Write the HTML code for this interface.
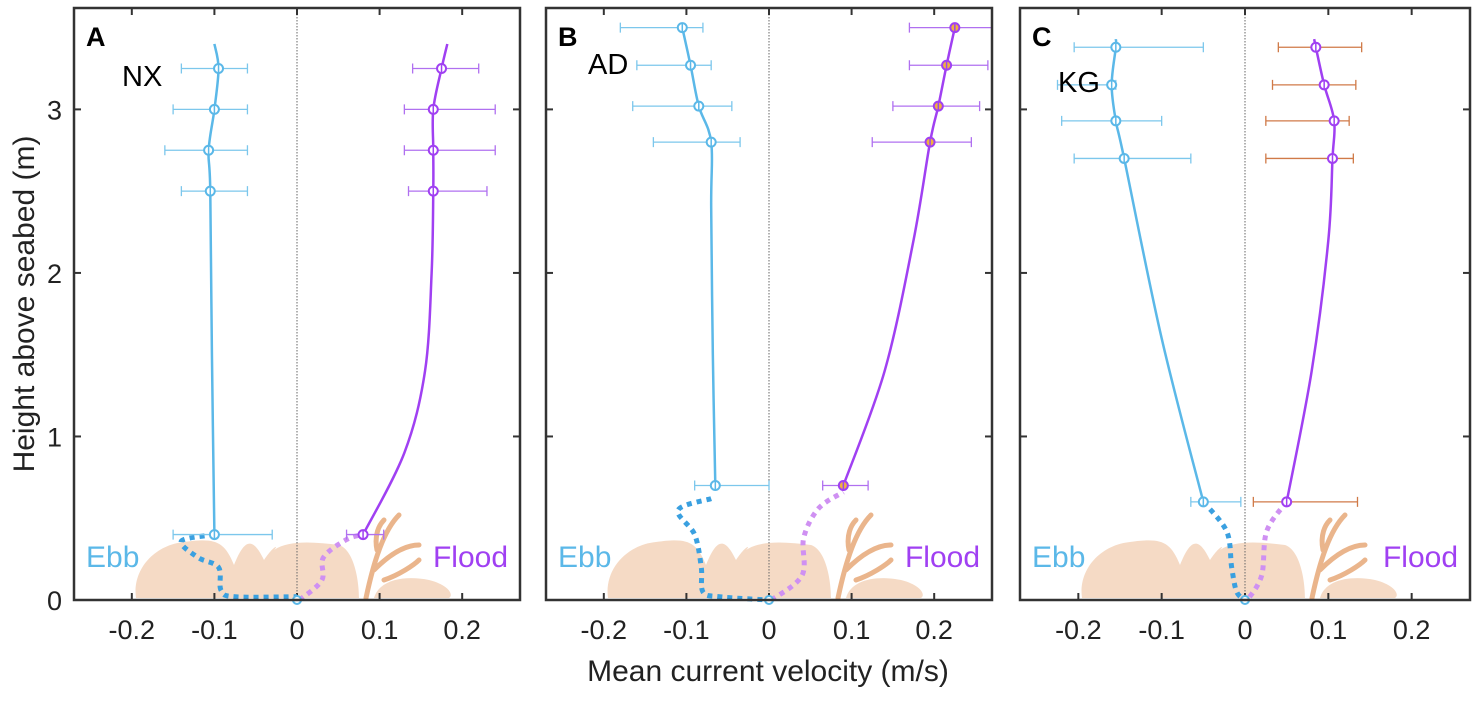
<!DOCTYPE html>
<html><head><meta charset="utf-8"><style>
body{margin:0;background:#fff;}
svg text{font-family:"Liberation Sans",Arial,sans-serif;}
</style></head><body>
<svg id="fig" width="1476" height="698" viewBox="0 0 1476 698" xmlns="http://www.w3.org/2000/svg">
<text x="0" y="0" transform="translate(34,304) rotate(-90)" text-anchor="middle" font-size="30" fill="#222">Height above seabed (m)</text>
<text x="768" y="681" text-anchor="middle" font-size="30" fill="#222">Mean current velocity (m/s)</text>
</svg>
<script>
const xTicks=[-0.2,-0.1,0,0.1,0.2];
const yTicks=[0,1,2,3];
const panelLetters=["A","B","C"];
const siteNames=["NX","AD","KG"];
// ebb measured points [velocity, height, errLow, errHigh]
const ebbPtsA=[[-0.1,0.4,-0.15,-0.03],[-0.105,2.5,-0.14,-0.06],[-0.107,2.75,-0.16,-0.06],[-0.1,3.0,-0.15,-0.06],[-0.095,3.25,-0.14,-0.06]];
const floodPtsA=[[0.08,0.4,0.06,0.105],[0.165,2.5,0.135,0.23],[0.165,2.75,0.13,0.24],[0.165,3.0,0.13,0.24],[0.175,3.25,0.14,0.22]];
const ebbPtsB=[[-0.065,0.7,-0.09,0.0],[-0.07,2.8,-0.14,-0.035],[-0.085,3.02,-0.165,-0.045],[-0.095,3.27,-0.16,-0.07],[-0.105,3.5,-0.18,-0.08]];
const floodPtsB=[[0.09,0.7,0.065,0.12],[0.195,2.8,0.125,0.245],[0.205,3.02,0.15,0.255],[0.215,3.27,0.17,0.265],[0.225,3.5,0.17,0.27]];
const ebbPtsC=[[-0.05,0.6,-0.065,-0.005],[-0.145,2.7,-0.205,-0.065],[-0.155,2.93,-0.22,-0.1],[-0.16,3.15,-0.225,-0.155],[-0.155,3.38,-0.205,-0.05]];
const floodPtsC=[[0.05,0.6,0.01,0.135],[0.105,2.7,0.025,0.13],[0.107,2.93,0.025,0.125],[0.095,3.15,0.033,0.133],[0.085,3.38,0.04,0.14]];
// fitted profile curves [velocity, height]
const ebbLineA=[[-0.1,0.4],[-0.103,1.5],[-0.105,2.5],[-0.107,2.75],[-0.1,3.0],[-0.095,3.25],[-0.1,3.4]];
const floodLineA=[[0.08,0.4],[0.13,0.9],[0.155,1.4],[0.163,2.0],[0.165,2.5],[0.165,2.75],[0.165,3.0],[0.175,3.25],[0.182,3.4]];
const ebbLineB=[[-0.065,0.7],[-0.068,1.5],[-0.07,2.4],[-0.07,2.8],[-0.085,3.02],[-0.095,3.27],[-0.105,3.5]];
const floodLineB=[[0.09,0.7],[0.14,1.4],[0.175,2.2],[0.195,2.8],[0.205,3.02],[0.215,3.27],[0.225,3.5]];
const ebbLineC=[[-0.05,0.6],[-0.1,1.6],[-0.145,2.7],[-0.155,2.93],[-0.16,3.15],[-0.155,3.38],[-0.155,3.43]];
const floodLineC=[[0.05,0.6],[0.08,1.4],[0.1,2.2],[0.105,2.7],[0.107,2.93],[0.095,3.15],[0.085,3.38],[0.083,3.43]];
// near-bed dotted extrapolation
const ebbBedA=[[-0.1,0.4],[-0.14,0.36],[-0.12,0.26],[-0.095,0.2],[-0.092,0.06],[-0.075,0.02],[0,0.02]];
const floodBedA=[[0.003,0],[0.03,0.12],[0.032,0.26],[0.06,0.37],[0.08,0.4]];
const ebbBedB=[[-0.07,0.62],[-0.11,0.55],[-0.09,0.4],[-0.082,0.2],[-0.08,0.05],[-0.06,0.02],[0,0.0]];
const floodBedB=[[0.003,0],[0.04,0.15],[0.042,0.38],[0.06,0.56],[0.09,0.66]];
const ebbBedC=[[-0.05,0.6],[-0.022,0.42],[-0.016,0.2],[-0.01,0.05],[0,0]];
const floodBedC=[[0.05,0.6],[0.026,0.42],[0.02,0.15],[0.003,0]];

const panels=[
 {x0:74,x1:520,ebbPts:ebbPtsA,floodPts:floodPtsA,ebbLine:ebbLineA,floodLine:floodLineA,ebbBed:ebbBedA,floodBed:floodBedA,floodFill:"#fff",floodErr:"#b070f0",labelY:true},
 {x0:546,x1:992,ebbPts:ebbPtsB,floodPts:floodPtsB,ebbLine:ebbLineB,floodLine:floodLineB,ebbBed:ebbBedB,floodBed:floodBedB,floodFill:"#f0b040",floodErr:"#b070f0",labelY:false},
 {x0:1020,x1:1470,ebbPts:ebbPtsC,floodPts:floodPtsC,ebbLine:ebbLineC,floodLine:floodLineC,ebbBed:ebbBedC,floodBed:floodBedC,floodFill:"#fff",floodErr:"#d07a48",labelY:false}
];
const XMIN=-0.27,XMAX=0.27,YMIN=0,YMAX=3.62,TOP=8,BOT=600;
const NS="http://www.w3.org/2000/svg";
const svg=document.getElementById("fig");
function mk(tag,attrs,parent){const e=document.createElementNS(NS,tag);for(const k in attrs)e.setAttribute(k,attrs[k]);(parent||svg).appendChild(e);return e;}
function smooth(pts){let d="M"+pts[0][0]+","+pts[0][1];for(let i=0;i<pts.length-1;i++){const p0=pts[i-1]||pts[i],p1=pts[i],p2=pts[i+1],p3=pts[i+2]||p2;const c1=[p1[0]+(p2[0]-p0[0])/6,p1[1]+(p2[1]-p0[1])/6],c2=[p2[0]-(p3[0]-p1[0])/6,p2[1]-(p3[1]-p1[1])/6];d+=" C"+c1[0]+","+c1[1]+" "+c2[0]+","+c2[1]+" "+p2[0]+","+p2[1];}return d;}
panels.forEach((p,pi)=>{
 const sx=v=>p.x0+(v-XMIN)/(XMAX-XMIN)*(p.x1-p.x0);
 const sy=v=>BOT-(v-YMIN)/(YMAX-YMIN)*(BOT-TOP);
 const g=mk("g",{});
 
 
 const W=p.x1-p.x0;
 const bed=mk("path",{d:`M${p.x0+62},${BOT-2} C${p.x0+58},${BOT-30} ${p.x0+80},${BOT-55} ${p.x0+110},${BOT-58} C${p.x0+140},${BOT-62} ${p.x0+150},${BOT-60} ${p.x0+160},${BOT-35} C${p.x0+170},${BOT-60} ${p.x0+178},${BOT-65} ${p.x0+190},${BOT-40} C${p.x0+200},${BOT-55} ${p.x0+205},${BOT-55} ${p.x0+200},${BOT-50} C${p.x0+215},${BOT-60} ${p.x0+240},${BOT-58} ${p.x0+265},${BOT-55} C${p.x0+280},${BOT-50} ${p.x0+285},${BOT-20} ${p.x0+285},${BOT-2} Z M${p.x0+300},${BOT-2} C${p.x0+305},${BOT-20} ${p.x0+330},${BOT-25} ${p.x0+355},${BOT-20} C${p.x0+375},${BOT-15} ${p.x0+380},${BOT-5} ${p.x0+375},${BOT-2} Z`,fill:"#f3d3bb",opacity:"0.85"},g);
 
 
 const weed=mk("path",{d:`M${p.x0+292},${BOT-2} C${p.x0+300},${BOT-40} ${p.x0+310},${BOT-70} ${p.x0+325},${BOT-85} M${p.x0+300},${BOT-30} C${p.x0+315},${BOT-45} ${p.x0+330},${BOT-55} ${p.x0+345},${BOT-55} M${p.x0+303},${BOT-50} C${p.x0+300},${BOT-65} ${p.x0+305},${BOT-75} ${p.x0+310},${BOT-80} M${p.x0+310},${BOT-20} C${p.x0+325},${BOT-25} ${p.x0+340},${BOT-35} ${p.x0+345},${BOT-40}`,stroke:"#eab58c",fill:"none","stroke-width":"5","stroke-linecap":"round"},g);
 
 
 const z=mk("line",{x1:sx(0),x2:sx(0),y1:TOP,y2:BOT,stroke:"#666","stroke-width":"1","stroke-dasharray":"1.5,1.5"},g);
 
 
 xTicks.forEach(t=>{
  mk("line",{x1:sx(t),x2:sx(t),y1:BOT,y2:BOT-7,stroke:"#333","stroke-width":"2"},g);
  mk("line",{x1:sx(t),x2:sx(t),y1:TOP,y2:TOP+7,stroke:"#333","stroke-width":"2"},g);
  const tl=mk("text",{x:sx(t),y:BOT+39,"text-anchor":"middle","font-size":"27",fill:"#222"},g);
  tl.textContent=t===0?"0":(t<0?"-":"")+Math.abs(t).toString();
  
  
 });
 yTicks.forEach(t=>{
  mk("line",{x1:p.x0,x2:p.x0+7,y1:sy(t),y2:sy(t),stroke:"#333","stroke-width":"2"},g);
  mk("line",{x1:p.x1,x2:p.x1-7,y1:sy(t),y2:sy(t),stroke:"#333","stroke-width":"2"},g);
  if(p.labelY){const yl=mk("text",{x:p.x0-12,y:sy(t)+10,"text-anchor":"end","font-size":"27",fill:"#222"},g);yl.textContent=t;
   
   }
 });
 const eb=mk("path",{d:smooth(p.ebbBed.map(q=>[sx(q[0]),sy(q[1])])),fill:"none",stroke:"#3aa0e0","stroke-width":"5","stroke-dasharray":"5,5"},g);
 
 
 const fb=mk("path",{d:smooth(p.floodBed.map(q=>[sx(q[0]),sy(q[1])])),fill:"none",stroke:"#cf90f2","stroke-width":"5","stroke-dasharray":"5,5"},g);
 
 
 const el=mk("path",{d:smooth(p.ebbLine.map(q=>[sx(q[0]),sy(q[1])])),fill:"none",stroke:"#5bb8e8","stroke-width":"2.5"},g);
 
 
 const fl=mk("path",{d:smooth(p.floodLine.map(q=>[sx(q[0]),sy(q[1])])),fill:"none",stroke:"#a040f2","stroke-width":"2.5"},g);
 
 
 const drawPts=(pts,col,errCol,fill,nm)=>pts.forEach(q=>{
  const y=sy(q[1]);
  const e=mk("path",{d:`M${sx(q[2])},${y}H${sx(q[3])}M${sx(q[2])},${y-5}V${y+5}M${sx(q[3])},${y-5}V${y+5}`,stroke:errCol,"stroke-width":"1.3",fill:"none"},g);
  
  
  const c=mk("circle",{cx:sx(q[0]),cy:y,r:4.5,fill:fill,stroke:col,"stroke-width":"2"},g);
  
  
  mk("line",{x1:sx(q[0]),x2:sx(q[0]),y1:y-5,y2:y+5,stroke:col,"stroke-width":"1.5"},g);
 });
 drawPts(p.ebbPts,"#5bb8e8","#7cc7ec","#fff","ebb");
 drawPts(p.floodPts,"#a040f2",p.floodErr,p.floodFill,"flood");
 mk("circle",{cx:sx(0),cy:BOT,r:4,fill:"#fff",stroke:"#5bb8e8","stroke-width":"2"},g);
 const fr=mk("rect",{x:p.x0,y:TOP,width:W,height:BOT-TOP,fill:"none",stroke:"#333","stroke-width":"2.5"},g);
 
 
 const L=mk("text",{x:p.x0+12,y:TOP+38,"font-size":"27","font-weight":"bold",fill:"#000"},g);L.textContent=panelLetters[pi];
 
 
 const sn=mk("text",{x:p.x0+(pi===2?38:pi===1?42:48),y:pi===2?92:(pi===1?74:86),"font-size":"29",fill:"#000"},g);sn.textContent=siteNames[pi];
 
 
 const et=mk("text",{x:p.x0+12,y:BOT-33,"font-size":"30",fill:"#5bb8e8"},g);et.textContent="Ebb";
 
 
 const ft=mk("text",{x:p.x1-12,y:BOT-33,"font-size":"30",fill:"#a040f2","text-anchor":"end"},g);ft.textContent="Flood";
 
 
});
</script>
</body></html>
